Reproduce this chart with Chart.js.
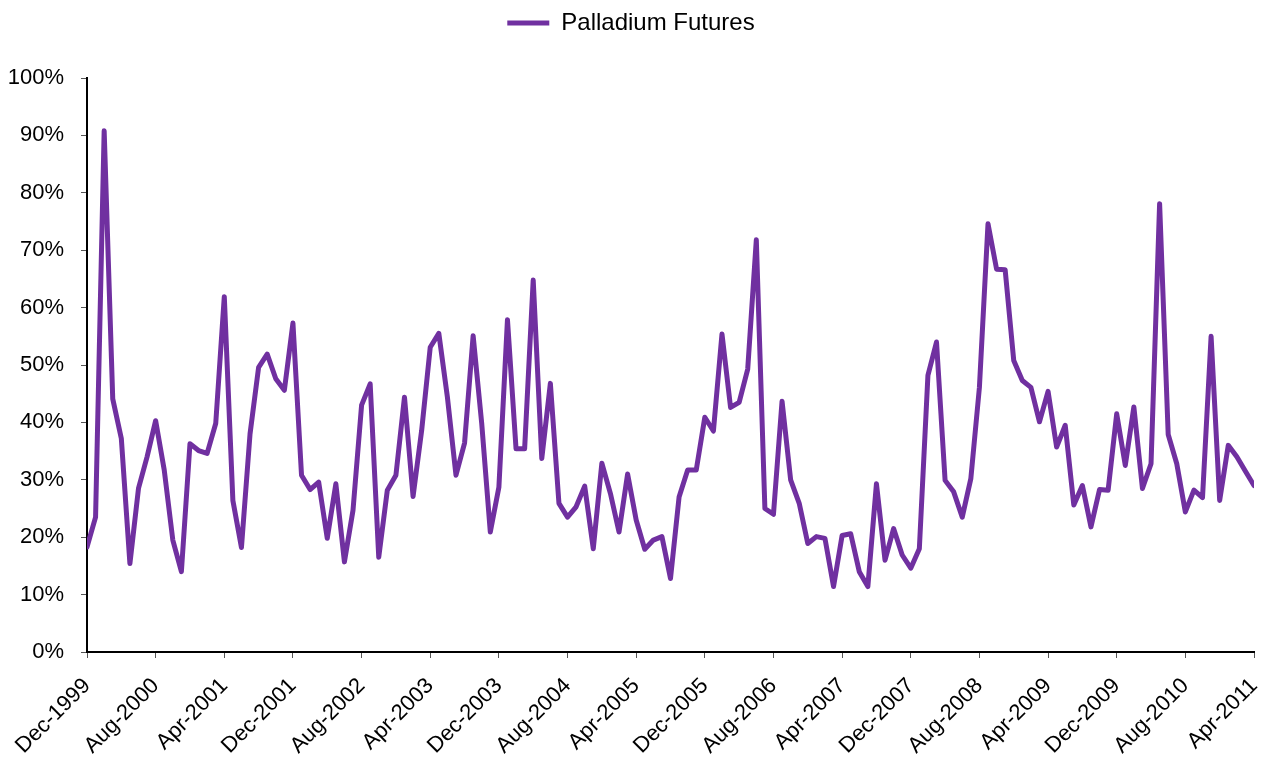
<!DOCTYPE html>
<html>
<head>
<meta charset="utf-8">
<script src="https://cdn.jsdelivr.net/npm/chart.js@4.4.1/dist/chart.umd.min.js"></script>
<style>
  html, body { margin: 0; padding: 0; background: #fff; }
  #wrap { width: 1269px; height: 761px; position: relative; }
</style>
</head>
<body>
<div id="wrap"><canvas id="myChart"></canvas></div>
<script>
// tick labels shown on the x axis (every 8th month, Dec-1999 .. Apr-2011)
const tickLabels = ["Dec-1999", "Aug-2000", "Apr-2001", "Dec-2001", "Aug-2002", "Apr-2003",
  "Dec-2003", "Aug-2004", "Apr-2005", "Dec-2005", "Aug-2006", "Apr-2007",
  "Dec-2007", "Aug-2008", "Apr-2009", "Dec-2009", "Aug-2010", "Apr-2011"];

// monthly values in %, one per month starting Dec-1999
const palladium = [
  18.3, 23.5, 90.8, 44.1, 37.2, 15.4, 28.5, 34.0, 40.3, 31.7, 19.5, 14.0,
  36.3, 35.1, 34.6, 39.8, 61.9, 26.4, 18.2, 38.0, 49.6, 51.9, 47.6, 45.6,
  57.3, 30.8, 28.3, 29.6, 19.8, 29.3, 15.7, 24.7, 43.0, 46.7, 16.5, 28.2,
  30.8, 44.4, 27.1, 38.6, 53.1, 55.5, 44.4, 30.8, 36.4, 55.1, 39.8, 20.9,
  28.7, 57.9, 35.4, 35.4, 64.8, 33.7, 46.8, 25.9, 23.5, 25.3, 28.9, 18.0,
  32.9, 27.6, 20.9, 31.0, 23.0, 17.9, 19.5, 20.1, 12.8, 27.0, 31.7, 31.7,
  40.9, 38.5, 55.4, 42.6, 43.5, 49.3, 71.8, 25.0, 24.0, 43.7, 30.0, 25.9,
  18.9, 20.1, 19.8, 11.4, 20.3, 20.6, 14.0, 11.4, 29.3, 16.0, 21.5, 16.9,
  14.6, 18.0, 48.2, 54.0, 29.9, 27.9, 23.5, 30.2, 46.1, 74.6, 66.7, 66.6,
  50.8, 47.3, 46.1, 40.1, 45.4, 35.7, 39.5, 25.6, 29.0, 21.8, 28.3, 28.2,
  41.5, 32.5, 42.7, 28.5, 32.8, 78.1, 37.9, 32.8, 24.4, 28.2, 26.9, 55.0,
  26.4, 36.0, 34.0, 31.5, 29.0
];

const seriesName = "Palladium Futures";
const lineColor = "#7030A0";
const fontFamily = "'Liberation Sans', Arial, sans-serif";

const points = palladium.map((v, i) => ({ x: i, y: v }));

// push the plot down below the legend
const legendGap = {
  id: "legendGap",
  beforeInit(chart) {
    const origFit = chart.legend.fit;
    chart.legend.fit = function () {
      origFit.bind(this)();
      this.height += 33;
    };
  }
};

const chartConfig = {
  type: "line",
  data: {
    datasets: [{
      label: seriesName,
      data: points,
      borderColor: lineColor,
      backgroundColor: lineColor,
      borderWidth: 5,
      borderCapStyle: "round",
      borderJoinStyle: "round",
      pointRadius: 0,
      tension: 0,
      fill: false
    }]
  },
  options: {
    responsive: true,
    maintainAspectRatio: false,
    animation: false,
    layout: { padding: { left: 8, right: 15, top: 4, bottom: 4 } },
    plugins: {
      tooltip: { enabled: false },
      legend: {
        position: "top",
        labels: {
          usePointStyle: true,
          pointStyle: "line",
          pointStyleWidth: 42,
          color: "#000",
          font: { family: fontFamily, size: 24 },
          padding: 7
        }
      }
    },
    scales: {
      x: {
        type: "linear",
        min: 0,
        max: palladium.length - 1,
        grid: { display: true, drawOnChartArea: false, drawTicks: true, tickLength: 6, color: "#555", lineWidth: 1 },
        border: { display: true, color: "#000", width: 2 },
        ticks: {
          stepSize: 8,
          autoSkip: false,
          maxRotation: 45,
          minRotation: 45,
          color: "#000",
          padding: 15,
          font: { family: fontFamily, size: 22 },
          callback: (value) => tickLabels[value / 8]
        },
        afterFit: (scale) => {
          // let the rotated first label hang into the margin
          scale.paddingLeft = 0;
          scale.paddingRight = 0;
          scale.height = 105;
        }
      },
      y: {
        min: 0,
        max: 100,
        grid: { display: true, drawOnChartArea: false, drawTicks: true, tickLength: 6, color: "#555", lineWidth: 1 },
        border: { display: true, color: "#000", width: 2 },
        ticks: {
          stepSize: 10,
          color: "#000",
          padding: 17,
          font: { family: fontFamily, size: 22 },
          callback: (value) => value + "%"
        },
        afterFit: (scale) => {
          scale.width = 79;
        }
      }
    }
  },
  plugins: [legendGap]
};

new Chart(document.getElementById("myChart"), chartConfig);
</script>
</body>
</html>
